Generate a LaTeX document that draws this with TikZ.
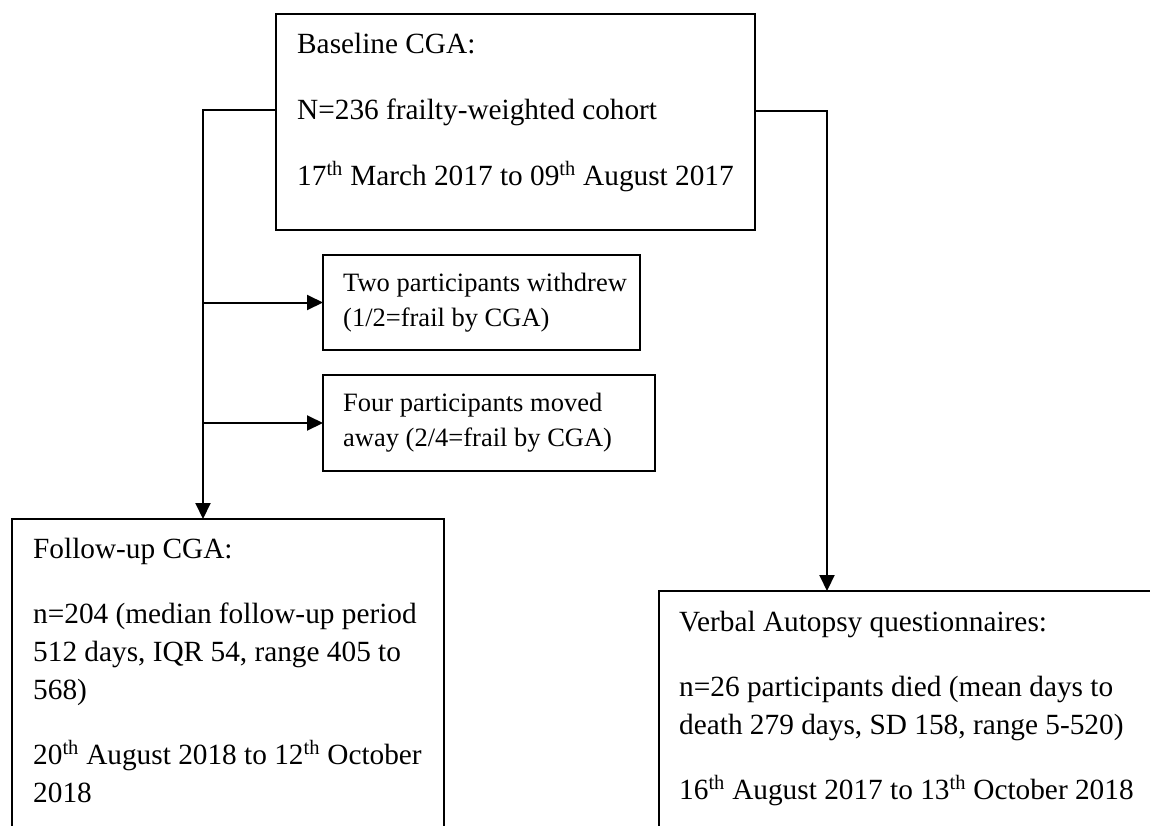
\documentclass[tikz,border=0pt]{standalone}
\usepackage{fontspec}
\setmainfont{Liberation Serif}
\usetikzlibrary{arrows.meta}
\newcommand\bigtxt{\fontsize{29.3}{38}\selectfont}
\newcommand\smalltxt{\fontsize{26.5}{35}\selectfont}
\tikzset{
  boxnode/.style={draw, line width=2pt, inner sep=0pt, outer sep=0pt, anchor=north west},
  bigtext/.style={inner sep=0pt, anchor=base west, font=\bigtxt},
  smalltext/.style={inner sep=0pt, anchor=base west, font=\smalltxt},
  conn/.style={line width=2pt},
  arr/.style={line width=2pt, -{Triangle[length=16pt,width=15pt]}}
}
\begin{document}
\begin{tikzpicture}[x=1pt,y=-1pt]
\useasboundingbox (0,0) rectangle (1150,825);
\clip (0,0) rectangle (1150,825);
\fill[white] (0,0) rectangle (1150,825);

% boxes
\node[boxnode, minimum width=479pt, minimum height=216pt] (top) at (276,14) {};
\node[boxnode, minimum width=317pt, minimum height=95pt] (withdraw) at (323,255) {};
\node[boxnode, minimum width=332pt, minimum height=96pt] (four) at (323,375) {};
\node[boxnode, minimum width=432pt, minimum height=400pt] (follow) at (12,519) {};
\node[boxnode, minimum width=600pt, minimum height=400pt] (verbal) at (659,591) {};

% texts
\node[bigtext] (toptext) at (297,53) {\begin{minipage}[t]{450pt}\raggedright
Baseline CGA:\\[28pt]
N=236 frailty-weighted cohort\\[28pt]
17\textsuperscript{th} March 2017 to 09\textsuperscript{th} August 2017\end{minipage}};

\node[smalltext] (withdrawtext) at (343,291) {\begin{minipage}[t]{300pt}\raggedright
Two participants withdrew\\
(1/2=frail by CGA)\end{minipage}};

\node[smalltext] (fourtext) at (343,411) {\begin{minipage}[t]{300pt}\raggedright
Four participants moved\\
away (2/4=frail by CGA)\end{minipage}};

\node[bigtext] (followtext) at (33,558) {\begin{minipage}[t]{420pt}\raggedright
Follow-up CGA:\\[27pt]
n=204 (median follow-up period\\
512 days, IQR 54, range 405 to\\
568)\\[27pt]
20\textsuperscript{th} August 2018 to 12\textsuperscript{th} October\\
2018\end{minipage}};

\node[bigtext] (verbaltext) at (679,631) {\begin{minipage}[t]{470pt}\raggedright
Verbal Autopsy questionnaires:\\[27pt]
n=26 participants died (mean days to\\
death 279 days, SD 158, range 5-520)\\[27pt]
16\textsuperscript{th} August 2017 to 13\textsuperscript{th} October 2018\end{minipage}};

% connectors
\coordinate (jl) at (203,110);
\coordinate (jr) at (827,111);
\draw[arr] (top.west |- jl) -- (jl) -- (jl |- follow.north);
\draw[arr] (jl |- withdraw.west) -- (withdraw.west);
\draw[arr] (jl |- four.west) -- (four.west);
\draw[arr] (top.east |- jr) -- (jr) -- (jr |- verbal.north);
\end{tikzpicture}
\end{document}
